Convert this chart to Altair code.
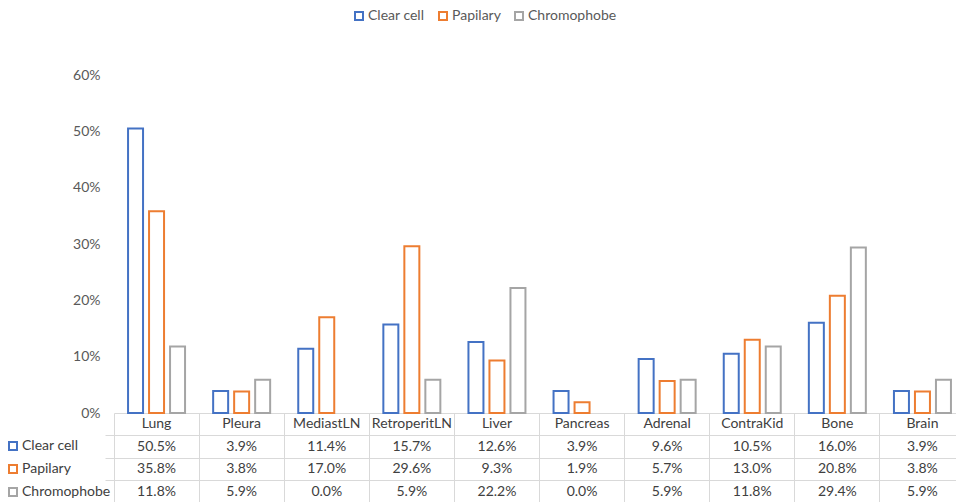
import altair as alt
import pandas as pd

categories = ["Lung", "Pleura", "MediastLN", "RetroperitLN", "Liver",
              "Pancreas", "Adrenal", "ContraKid", "Bone", "Brain"]
series = ["Clear cell", "Papilary", "Chromophobe"]
clear_cell = [50.5, 3.9, 11.4, 15.7, 12.6, 3.9, 9.6, 10.5, 16.0, 3.9]
papilary = [35.8, 3.8, 17.0, 29.6, 9.3, 1.9, 5.7, 13.0, 20.8, 3.8]
chromophobe = [11.8, 5.9, 0.0, 5.9, 22.2, 0.0, 5.9, 11.8, 29.4, 5.9]
y_ticks = [0, 10, 20, 30, 40, 50, 60]
colors = ["#4472C4", "#ED7D31", "#A5A5A5"]

FONT = "Lato"
TXT = "#595959"
GRID = "#D9D9D9"

values = [clear_cell, papilary, chromophobe]
rows = []
for s, vals in zip(series, values):
    for c, v in zip(categories, vals):
        rows.append({"cat": c, "series": s, "v": v})
bar_df = pd.DataFrame(rows)

table_rows = [{"cat": c, "row": "hdr", "text": c} for c in categories]
for r in rows:
    table_rows.append({"cat": r["cat"], "row": r["series"], "text": f"{r['v']:.1f}%"})
table_df = pd.DataFrame(table_rows)

legend_df = pd.DataFrame({"series": series})

x_scale = alt.Scale(type="band", domain=categories, range=[0, 851],
                    paddingInner=0, paddingOuter=0)
x_axis = alt.Axis(title=None, labels=False, domain=True, domainColor=GRID,
                  ticks=True, tickColor=GRID, tickSize=89, bandPosition=0,
                  grid=False)

bars = alt.Chart(bar_df).transform_filter("datum.v > 0").mark_bar(
    fill="white", strokeWidth=2
).encode(
    x=alt.X("cat:N", scale=x_scale, axis=x_axis, sort=categories),
    xOffset=alt.XOffset("series:N", sort=series,
                        scale=alt.Scale(domain=series, paddingInner=0.286,
                                        paddingOuter=0.669)),
    y=alt.Y("v:Q", scale=alt.Scale(domain=[0, 60], nice=False),
            axis=alt.Axis(title=None, values=y_ticks,
                          labelExpr="datum.value + '%'", domain=False,
                          ticks=False, grid=False, labelPadding=14,
                          labelFontSize=14, labelColor=TXT, labelFont=FONT)),
    stroke=alt.Stroke("series:N", sort=series,
                      scale=alt.Scale(domain=series, range=colors),
                      legend=alt.Legend(title=None, orient="none",
                                        direction="horizontal",
                                        legendX=238, legendY=-66,
                                        symbolType="square", symbolSize=64,
                                        symbolStrokeWidth=2,
                                        symbolFillColor="white",
                                        labelFontSize=14, labelFont=FONT,
                                        labelColor=TXT, columnPadding=10,
                                        labelOffset=2, padding=0)),
)

table = alt.Chart(table_df).mark_text(
    fontSize=14, font=FONT, color="#404040"
).encode(
    x=alt.X("cat:N", scale=x_scale, axis=x_axis, sort=categories),
    y=alt.Y("row:N",
            scale=alt.Scale(type="band", domain=["hdr"] + series,
                            range=[338, 428], paddingInner=0, paddingOuter=0),
            axis=alt.Axis(title=None, values=series, bandPosition=0,
                          labels=False, domain=False, ticks=True,
                          tickSize=108, tickColor=GRID, grid=True,
                          gridColor=GRID)),
    text="text:N",
)

row_legend = alt.Chart(legend_df).mark_point(
    shape="square", opacity=0
).encode(
    color=alt.Color("series:N", sort=series,
                    scale=alt.Scale(domain=series, range=colors),
                    legend=alt.Legend(title=None, orient="none",
                                      direction="vertical",
                                      legendX=-108, legendY=364,
                                      symbolType="square", symbolSize=64,
                                      symbolStrokeWidth=2,
                                      symbolFillColor="white",
                                      symbolOpacity=1,
                                      labelFontSize=14, labelFont=FONT,
                                      labelColor="#404040", rowPadding=7,
                                      labelOffset=2, padding=0)),
)

chart = alt.layer(bars, table, row_legend).resolve_scale(
    y="independent", color="independent", stroke="independent"
).properties(
    width=842, height=338,
    autosize=alt.AutoSizeParams(type="none"),
    padding={"left": 114, "top": 75, "right": 0, "bottom": 89},
    background="white",
).configure_view(stroke=None)

chart.save("out.html", embed_options={"renderer": "svg", "actions": False})
